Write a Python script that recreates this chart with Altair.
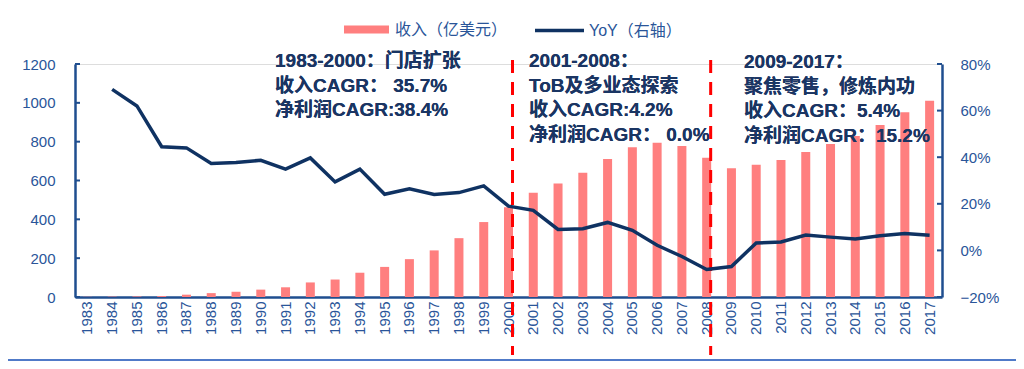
import altair as alt
import pandas as pd

years = ["1983", "1984", "1985", "1986", "1987", "1988", "1989", "1990", "1991", "1992",
         "1993", "1994", "1995", "1996", "1997", "1998", "1999", "2000", "2001", "2002",
         "2003", "2004", "2005", "2006", "2007", "2008", "2009", "2010", "2011", "2012",
         "2013", "2014", "2015", "2016", "2017"]
revenue = [1, 2, 3, 5, 12, 20, 27, 38, 50, 75,
           90, 125, 155, 195, 240, 303, 386, 462, 537, 585,
           640, 711, 771, 795, 778, 717, 663, 681, 705, 747,
           788, 829, 886, 951, 1011]
yoy = [None, 0.691, 0.620, 0.445, 0.440, 0.373, 0.377, 0.387, 0.349, 0.397,
       0.294, 0.349, 0.241, 0.264, 0.240, 0.248, 0.277, 0.190, 0.172, 0.090,
       0.093, 0.120, 0.086, 0.022, -0.026, -0.082, -0.069, 0.032, 0.036, 0.066,
       0.057, 0.049, 0.063, 0.072, 0.065]
left_ticks = [0, 200, 400, 600, 800, 1000, 1200]
right_ticks = [-0.2, 0.0, 0.2, 0.4, 0.6, 0.8]
period_breaks = ["2000", "2008"]
bar_label = "收入（亿美元）"
line_label = "YoY（右轴）"
block1 = ["1983-2000：门店扩张", "收入CAGR： 35.7%", "净利润CAGR:38.4%"]
block2 = ["2001-2008：", "ToB及多业态探索", "收入CAGR:4.2%", "净利润CAGR： 0.0%"]
block3 = ["2009-2017：", "聚焦零售，修炼内功", "收入CAGR：5.4%", "净利润CAGR：15.2%"]

df = pd.DataFrame({"year": years, "revenue": revenue, "yoy": yoy})
df["s_bar"] = bar_label
df["s_line"] = line_label
df_lt = pd.DataFrame({"revenue": left_ticks})
df_rt = pd.DataFrame({"yoy": right_ticks})
df_br = pd.DataFrame({"year": period_breaks})

FONT = "Liberation Sans, Noto Sans CJK SC"
AXIS_BLUE = "#1F4E8F"
LABEL_BLUE = "#2A5599"
NAVY = "#0F3262"
PINK = "#FF7F7F"
TEXT_NAVY = "#1A3563"

xenc = alt.X("year:N", sort=years, scale=alt.Scale(paddingInner=0, paddingOuter=0),
             axis=alt.Axis(title=None, labelAngle=-90, labelFontSize=15, labelColor=LABEL_BLUE,
                           labelFont=FONT, ticks=False, domainColor=AXIS_BLUE, domainWidth=2.5,
                           labelPadding=4, grid=False))

yl_scale = alt.Scale(domain=[0, 1200], nice=False, zero=True)
yr_scale = alt.Scale(domain=[-0.2, 0.8], nice=False, zero=False)

yl_axis = alt.Axis(title=None, orient="left", values=left_ticks, format="d", labelFontSize=15,
                   labelColor=LABEL_BLUE, labelFont=FONT, ticks=False, grid=False,
                   domainColor=AXIS_BLUE, domainWidth=2.5, labelPadding=20, labelOverlap=False)
yr_axis = alt.Axis(title=None, orient="right", values=right_ticks, format=".0%",
                   labelFontSize=15, labelColor=LABEL_BLUE, labelFont=FONT, ticks=False,
                   grid=False, domainColor=AXIS_BLUE, domainWidth=2.5, labelPadding=18,
                   labelOverlap=False)

bars = alt.Chart(df).mark_bar(size=9).encode(
    x=xenc,
    y=alt.Y("revenue:Q", scale=yl_scale, axis=yl_axis),
    color=alt.Color("s_bar:N", scale=alt.Scale(domain=[bar_label], range=[PINK]),
                    legend=alt.Legend(title=None, orient="none", legendX=268, legendY=-58,
                                      symbolType="M-1,-0.18H1V0.18H-1Z", symbolSize=2025,
                                      labelFontSize=16, labelColor=LABEL_BLUE, labelFont=FONT,
                                      labelOffset=5, padding=0, symbolOpacity=1)),
)

lticks = alt.Chart(df_lt).mark_rule(color=AXIS_BLUE, strokeWidth=2).encode(
    y=alt.Y("revenue:Q", scale=yl_scale, axis=yl_axis),
    x=alt.value(0), x2=alt.value(5),
)

breaks = alt.Chart(df_br).mark_rule(color="#FF0000", strokeWidth=3, strokeDash=[13, 9], xOffset=4).encode(
    x=alt.X("year:N", sort=years),
    y=alt.value(-4), y2=alt.value(291),
)

bottom_line = alt.Chart(df_br).mark_rule(color="#4472C4", strokeWidth=1.5).encode(
    x=alt.value(-67), x2=alt.value(941), y=alt.value(296),
)


def block(lines, x, y):
    return alt.Chart(df_br).mark_text(
        text=lines, align="left", baseline="top", lineHeight=24.5, fontSize=19,
        fontWeight="bold", font=FONT, color=TEXT_NAVY,
    ).encode(x=alt.value(x), y=alt.value(y))


ann = block(block1, 200, -12) + block(block2, 454, -12) + block(block3, 669, -11)

line = alt.Chart(df).mark_line(strokeWidth=3.5).encode(
    x=alt.X("year:N", sort=years),
    y=alt.Y("yoy:Q", scale=yr_scale, axis=yr_axis),
    stroke=alt.Stroke("s_line:N", scale=alt.Scale(domain=[line_label], range=[NAVY]),
                      legend=alt.Legend(title=None, orient="none", legendX=458, legendY=-60,
                                        symbolType="stroke", symbolSize=2401,
                                        symbolStrokeWidth=3.5, labelFontSize=16,
                                        labelColor=LABEL_BLUE, labelFont=FONT,
                                        labelOffset=3, padding=0)),
)

rticks = alt.Chart(df_rt).mark_rule(color=AXIS_BLUE, strokeWidth=2).encode(
    y=alt.Y("yoy:Q", scale=yr_scale, axis=yr_axis),
    x=alt.value(862), x2=alt.value(867),
)

left = alt.layer(bars, lticks, bottom_line, ann, breaks)
right = alt.layer(line, rticks)

chart = alt.layer(left, right).resolve_scale(y="independent").properties(
    width=867, height=233,
    autosize=alt.AutoSizeParams(type="none"),
    padding={"left": 67, "top": 56, "right": 74, "bottom": 64},
).configure_view(stroke=None).configure(background="white")

chart.save("out.html", embed_options={"renderer": "svg", "actions": False})
